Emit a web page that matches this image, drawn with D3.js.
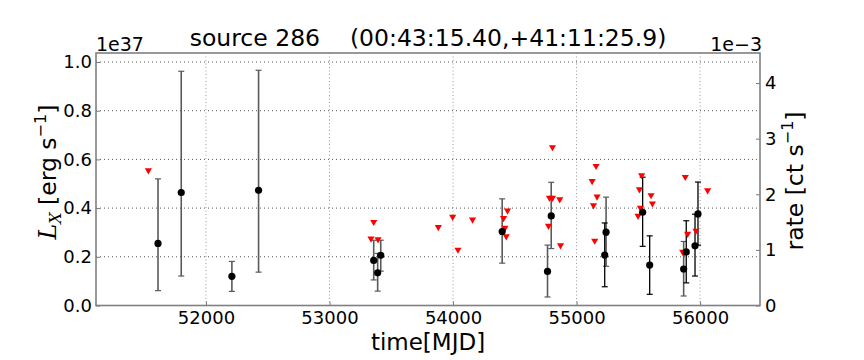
<!DOCTYPE html>
<html><head><meta charset="utf-8">
<script src="https://cdn.jsdelivr.net/npm/d3@7"></script>
<style>body{margin:0;background:#fff;} svg{display:block;font-family:"DejaVu Sans",sans-serif;}</style>
</head><body>
<svg id="c" width="864" height="360"></svg>
<script>
// detections with gray error bars (MJD, L [1e37 erg/s], low, high)
const detA_mjd = [51612, 51800, 52210, 52426, 53358, 53390, 53415, 54398, 54765, 54795, 55239, 55867];
const detA_L   = [0.255, 0.464, 0.120, 0.473, 0.185, 0.134, 0.206, 0.304, 0.140, 0.368, 0.301, 0.150];
const detA_lo  = [0.061, 0.121, 0.058, 0.137, 0.105, 0.059, 0.141, 0.174, 0.035, 0.234, 0.161, 0.039];
const detA_hi  = [0.520, 0.962, 0.181, 0.966, 0.268, 0.214, 0.268, 0.438, 0.248, 0.506, 0.445, 0.263];
// detections with black error bars
const detB_mjd = [55228, 55535, 55592, 55888, 55959, 55983];
const detB_L   = [0.207, 0.383, 0.166, 0.220, 0.245, 0.376];
const detB_lo  = [0.077, 0.243, 0.046, 0.093, 0.121, 0.248];
const detB_hi  = [0.339, 0.527, 0.286, 0.348, 0.375, 0.507];
// upper limits (MJD, L [1e37 erg/s])
const ul_mjd = [51534, 53358, 53336, 53393, 53881, 53997, 54040, 54158,
                54441, 54409, 54420, 54431, 54805, 54781, 54805, 54864, 54773, 54870,
                55158, 55126, 55166, 55137, 55147,
                55527, 55509, 55603, 55614, 55517, 55498,
                55880, 56061, 55899, 55967, 55859, 55875];
const ul_L   = [0.555, 0.343, 0.275, 0.272, 0.322, 0.364, 0.229, 0.353,
                0.390, 0.359, 0.319, 0.284, 0.650, 0.442, 0.442, 0.436, 0.327, 0.247,
                0.573, 0.511, 0.447, 0.411, 0.266,
                0.535, 0.477, 0.453, 0.419, 0.401, 0.368,
                0.528, 0.473, 0.294, 0.307, 0.220, 0.219];
const xTicks = [52000, 53000, 54000, 55000, 56000];
const yLTicks = [0.0, 0.2, 0.4, 0.6, 0.8, 1.0];
const yRTicks = [0, 1, 2, 3, 4];

const svg = d3.select("#c");
const L = 96, R = 760, T = 53, B = 305.5;
const x = d3.scaleLinear().domain([51110, 56485]).range([L, R]);
const yL = d3.scaleLinear().domain([0, 1.037]).range([B, T]);
const yR = d3.scaleLinear().domain([0, 4.54]).range([B, T]);

// grid
const g = svg.append("g");
g.selectAll(".gx").data(xTicks).join("line")
  .attr("x1", d => x(d)).attr("x2", d => x(d)).attr("y1", T).attr("y2", B)
  .attr("stroke", "#999").attr("stroke-width", 1).attr("stroke-dasharray", "1,2.5");
g.selectAll(".gy").data(yLTicks.slice(1)).join("line")
  .attr("x1", L).attr("x2", R).attr("y1", d => yL(d)).attr("y2", d => yL(d))
  .attr("stroke", "#555").attr("stroke-width", 1).attr("stroke-dasharray", "1,3");

// axes (ticks inside)
const fs = 18;
const ax = svg.append("g").attr("transform", `translate(0,${B})`)
  .call(d3.axisBottom(x).tickValues(xTicks).tickSize(-4).tickPadding(6).tickFormat(d3.format("d")));
const ayl = svg.append("g").attr("transform", `translate(${L},0)`)
  .call(d3.axisLeft(yL).tickValues(yLTicks).tickSize(-4).tickPadding(4).tickFormat(d3.format(".1f")));
const ayr = svg.append("g").attr("transform", `translate(${R},0)`)
  .call(d3.axisRight(yR).tickValues(yRTicks).tickSize(-4).tickPadding(5).tickFormat(d3.format("d")));
[ax, ayl, ayr].forEach(a => {
  a.select(".domain").remove();
  a.selectAll("text").attr("font-size", fs).attr("font-family", "DejaVu Sans").attr("fill", "#000");
  a.selectAll("line").attr("stroke", "#777");
});

// frame
svg.append("rect").attr("x", L).attr("y", T).attr("width", R - L).attr("height", B - T)
  .attr("fill", "none").attr("stroke", "#808080").attr("stroke-width", 1.6);

// error bars
function errbars(mjd, lo, hi, col, w) {
  const grp = svg.append("g").attr("stroke", col).attr("stroke-width", w);
  mjd.forEach((m, i) => {
    const cx = x(m);
    grp.append("line").attr("x1", cx).attr("x2", cx).attr("y1", yL(lo[i])).attr("y2", yL(hi[i]));
    grp.append("line").attr("x1", cx - 3).attr("x2", cx + 3).attr("y1", yL(lo[i])).attr("y2", yL(lo[i])).attr("stroke-width", 1.2);
    grp.append("line").attr("x1", cx - 3).attr("x2", cx + 3).attr("y1", yL(hi[i])).attr("y2", yL(hi[i])).attr("stroke-width", 1.2);
  });
}
errbars(detA_mjd, detA_lo, detA_hi, "#5a5a5a", 1.6);
errbars(detB_mjd, detB_lo, detB_hi, "#000", 1.3);

// upper limits: red down triangles
const tri = d3.symbol().type(d3.symbolTriangle).size(22);
svg.append("g").selectAll("path").data(ul_mjd).join("path")
  .attr("d", tri)
  .attr("transform", (d, i) => `translate(${x(d)},${yL(ul_L[i])}) rotate(180)`)
  .attr("fill", "#ff0000");

// detections
svg.append("g").selectAll("circle").data(detA_mjd.concat(detB_mjd)).join("circle")
  .attr("cx", d => x(d))
  .attr("cy", (d, i) => yL(detA_L.concat(detB_L)[i]))
  .attr("r", 3.6).attr("fill", "#000");

// texts
svg.append("text").attr("x", 428).attr("y", 46).attr("text-anchor", "middle")
  .attr("font-size", 23.5).attr("xml:space", "preserve")
  .text("source 286    (00:43:15.40,+41:11:25.9)");
svg.append("text").attr("x", 96).attr("y", 51).attr("font-size", 19).text("1e37");
svg.append("text").attr("x", 762).attr("y", 51).attr("text-anchor", "end").attr("font-size", 19).text("1e\u22123");
svg.append("text").attr("x", 428).attr("y", 350).attr("text-anchor", "middle").attr("font-size", 23).text("time[MJD]");

const yl = svg.append("text").attr("transform", "translate(56,172) rotate(-90)")
  .attr("text-anchor", "middle").attr("font-size", 23.5);
yl.append("tspan").attr("font-family", "DejaVu Serif").attr("font-style", "italic").text("L");
yl.append("tspan").attr("font-family", "DejaVu Serif").attr("font-style", "italic").attr("font-size", 16).attr("dy", 5).text("X");
yl.append("tspan").attr("dy", -5).attr("xml:space", "preserve").text(" [erg s");
yl.append("tspan").attr("font-size", 16).attr("dy", -10).text("\u22121");
yl.append("tspan").attr("dy", 10).text("]");

const yr = svg.append("text").attr("transform", "translate(803,181) rotate(-90)")
  .attr("text-anchor", "middle").attr("font-size", 23.5);
yr.append("tspan").text("rate [ct s");
yr.append("tspan").attr("font-size", 16).attr("dy", -10).text("\u22121");
yr.append("tspan").attr("dy", 10).text("]");
</script>
</body></html>
